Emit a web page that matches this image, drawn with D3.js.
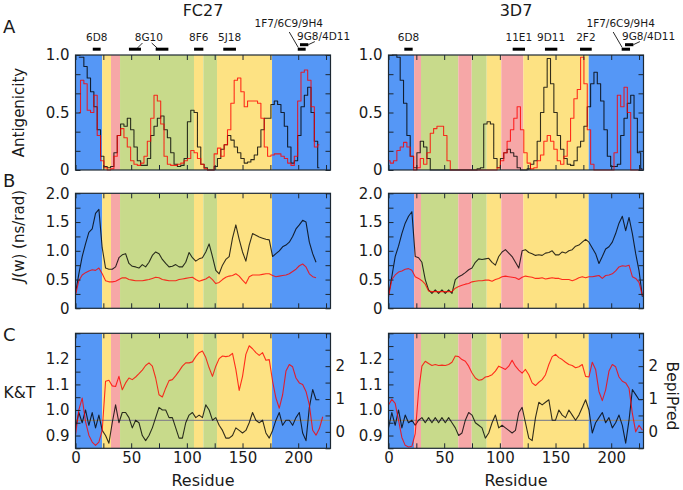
<!DOCTYPE html>
<html><head><meta charset="utf-8">
<script src="https://cdn.jsdelivr.net/npm/d3@7"></script>
<style>body{margin:0;background:#fff}svg{display:block}</style>
</head><body>
<svg id="chart" width="683" height="490"></svg>
<script>
// ---------------- DATA ----------------
const residueStep = 3;
const residueDomain = [0, 229];
const xTickValues = [0, 25, 50, 75, 100, 125, 150, 175, 200, 225];
const xTickLabels = {0: "0", 50: "50", 100: "100", 150: "150", 200: "200"};

const strains = ["FC27", "3D7"];

// Panel A: antigenicity (black / red), sampled every 3 residues
const aFC27Black = [0.98,0.98,0.9,0.8,0.68,0.55,0.35,0.12,0.03,0.02,
 0.03,0.15,0.3,0.4,0.38,0.45,0.35,0.2,0.08,0.04,
 0.04,0.1,0.3,0.38,0.45,0.47,0.35,0.28,0.15,0.05,
 0.03,0.04,0.1,0.42,0.52,0.5,0.2,0.05,0.02,0,
 0,0.03,0.1,0.18,0.22,0.3,0.26,0.2,0.15,0.1,
 0.06,0.07,0.09,0.13,0.2,0.35,0.45,0.45,0.57,0.6,
 0.57,0.5,0.38,0.2,0.06,0.08,0.3,0.55,0.65,0.72,
 0.5,0.25,0.02];
const aFC27Red = [0.5,0.78,0.75,0.52,0.5,0.65,0.3,0.08,0.02,0,
 0.01,0.12,0.3,0.36,0.28,0.2,0.08,0.05,0.04,0.06,
 0.12,0.25,0.45,0.65,0.6,0.4,0.12,0.05,0.04,0.04,
 0.05,0.06,0.08,0.1,0.17,0.15,0.1,0.05,0.01,0,
 0,0.14,0.19,0.12,0.22,0.35,0.58,0.78,0.8,0.68,
 0.55,0.6,0.6,0.6,0.58,0.45,0.2,0.12,0.13,0.14,
 0.14,0.12,0.1,0.06,0.04,0.12,0.6,0.85,0.87,0.78,
 0.55,0.2,0.22];
const a3D7Black = [1,1,0.98,0.78,0.58,0.3,0.12,0.02,0.15,0.25,
 0.2,0.1,0,0,0,0,0,0,0,0,
 0,0,0,0,0,0,0.01,0.02,0.4,0.42,
 0.4,0.1,0.02,0.1,0.15,0.18,0.15,0.12,0.02,0,
 0,0.01,0.05,0.08,0.25,0.5,0.72,0.97,0.75,0.5,
 0.3,0.18,0.1,0.05,0.04,0.08,0.2,0.25,0.38,0.55,
 0.75,0.85,0.75,0.6,0.35,0.12,0.03,0.03,0.05,0.3,
 0.45,0.58,0.65,0.45,0.15,0.01];
const a3D7Red = [0.08,0.06,0.08,0.17,0.2,0.24,0.2,0.12,0,0.02,
 0.1,0.05,0.15,0.32,0.36,0.38,0.38,0.3,0.08,0,
 0,0,0,0,0,0,0,0,0,0,
 0,0,0,0.02,0.08,0.15,0.25,0.35,0.45,0.55,
 0.35,0.15,0.06,0.01,0.02,0.08,0.13,0.25,0.3,0.25,
 0.18,0.08,0.05,0.12,0.25,0.45,0.62,0.7,0.98,0.75,
 0.35,0.05,0,0,0,0,0,0,0.15,0.65,
 0.55,0.72,0.5,0,0,0,0];

// Panel B: J(w) (ns/rad)
const bFC27Black = [0.26,0.6,0.9,1.12,1.32,1.38,1.65,1.72,1.05,0.7,
 0.68,0.68,0.72,0.88,0.93,0.95,0.78,0.73,0.72,0.7,
 0.76,0.72,0.8,0.92,0.98,0.95,0.85,0.78,0.72,0.73,
 0.76,0.72,0.72,0.8,0.97,0.88,0.82,0.86,0.88,0.98,
 1.12,0.9,0.66,0.6,0.75,0.85,0.9,1.22,1.45,1.2,
 0.98,0.82,1.1,1.3,1.27,1.24,1.22,1.2,1.19,0.9,
 0.95,1.0,1.07,1.1,1.15,1.25,1.38,1.45,1.53,1.5,
 1.15,0.95,0.8];
const bFC27Red = [0.23,0.48,0.58,0.62,0.65,0.67,0.66,0.7,0.6,0.48,
 0.46,0.46,0.47,0.5,0.53,0.53,0.5,0.49,0.48,0.48,
 0.48,0.49,0.5,0.52,0.54,0.53,0.5,0.49,0.48,0.48,
 0.48,0.5,0.51,0.52,0.53,0.54,0.5,0.47,0.49,0.51,
 0.55,0.5,0.43,0.45,0.5,0.54,0.56,0.57,0.6,0.56,
 0.49,0.43,0.55,0.58,0.58,0.58,0.59,0.6,0.6,0.57,
 0.55,0.56,0.57,0.58,0.6,0.64,0.68,0.74,0.77,0.72,
 0.6,0.55,0.53];
const b3D7Black = [0.23,0.55,0.9,1.08,1.3,1.48,1.6,1.68,0.9,0.88,
 0.8,0.5,0.32,0.26,0.32,0.26,0.32,0.26,0.32,0.26,
 0.5,0.55,0.58,0.62,0.67,0.7,0.8,0.86,0.85,0.86,
 0.87,0.8,0.75,0.9,0.98,1.02,0.96,0.9,0.8,0.7,
 1.0,1.02,0.97,0.95,0.92,0.93,0.92,0.96,0.97,1.0,
 0.93,0.93,0.98,0.96,1.0,1.02,1.08,1.1,1.15,1.2,
 1.15,1.05,0.95,0.78,0.9,1.03,1.07,1.15,1.3,1.48,
 1.6,1.35,1.58,1.3,0.95,0.65,0.2];
const b3D7Red = [0.2,0.5,0.58,0.63,0.65,0.68,0.69,0.66,0.55,0.52,
 0.48,0.42,0.3,0.29,0.29,0.29,0.29,0.29,0.29,0.29,
 0.35,0.38,0.4,0.42,0.43,0.46,0.47,0.48,0.48,0.49,
 0.49,0.47,0.5,0.52,0.55,0.56,0.55,0.54,0.53,0.5,
 0.54,0.56,0.55,0.54,0.52,0.52,0.53,0.51,0.52,0.53,
 0.52,0.52,0.5,0.5,0.5,0.48,0.5,0.53,0.55,0.53,
 0.55,0.55,0.56,0.57,0.52,0.57,0.58,0.6,0.65,0.72,
 0.74,0.73,0.75,0.55,0.52,0.45,0.22];

// Panel C: K&T (black, left axis) and BepiPred (red, right axis)
const cFC27KT = [0.93,0.99,0.95,1.0,0.94,0.99,0.93,0.98,0.92,0.9,
 0.87,0.95,1.02,0.95,0.99,0.99,0.97,0.93,0.96,0.95,
 0.9,0.88,0.9,0.93,0.97,1.01,1.0,1.0,0.97,0.97,
 0.93,0.89,0.89,0.95,0.98,0.99,0.97,0.98,0.97,1.02,
 1.0,0.96,0.97,0.94,0.92,0.89,0.89,0.9,0.93,0.92,
 0.91,0.92,0.95,0.99,0.96,0.95,0.96,0.91,0.89,0.92,
 0.96,0.99,0.94,0.96,0.96,0.94,0.97,0.99,0.91,0.88,
 1.01,1.08,1.04,1.04];
const cFC27Bepi = [-0.1,0.67,1.03,0.31,-0.1,-0.31,-0.41,-0.31,0.05,1.54,
 1.57,1.4,1.38,1.69,1.28,1.49,1.64,1.59,1.67,1.77,
 1.88,2.02,2.1,2.0,1.64,1.13,1.06,1.33,1.56,1.59,
 1.71,1.85,2.0,2.1,2.1,2.13,2.29,2.41,2.46,2.26,
 1.95,1.69,2.0,2.23,2.31,2.29,2.31,2.39,1.9,1.26,
 1.69,2.36,2.62,2.53,2.41,2.33,2.41,2.18,2.2,1.54,
 1.03,0.72,1.13,1.85,2.05,1.98,1.64,1.49,1.44,1.23,
 0.82,0.05,-0.1,0.1,0.46];
const c3D7KT = [0.93,0.99,0.94,1.0,0.93,0.98,0.95,0.96,0.94,0.96,
 0.97,0.95,0.97,0.95,0.97,0.95,0.97,0.95,0.97,0.95,
 0.93,0.9,0.91,0.96,0.99,0.98,0.95,0.94,0.93,0.89,
 0.91,0.95,0.98,0.93,0.94,0.93,0.92,0.91,0.92,0.99,
 1.01,0.95,0.89,0.88,0.97,1.03,1.02,1.03,1.04,0.96,
 0.96,1.0,0.98,0.97,1.0,0.98,0.96,0.98,1.01,1.04,
 1.0,0.91,0.95,0.97,0.99,0.95,0.97,0.93,0.95,0.98,
 0.94,0.87,0.96,1.08,1.06,1.04,1.04];
const c3D7Bepi = [0.82,0.99,0.87,0.36,-0.17,-0.41,-0.46,-0.44,-0.05,1.23,
 2.0,2.15,2.08,2.02,2.05,2.02,2.03,2.02,2.05,2.12,
 2.31,2.29,2.2,2.15,2.0,1.79,1.64,1.57,1.59,1.67,
 1.69,1.74,1.85,2.0,1.95,1.9,2.0,2.18,2.0,1.88,
 1.79,1.9,1.74,1.49,1.41,1.51,1.59,1.74,2.05,2.29,
 2.36,2.26,2.2,2.12,2.05,2.02,1.95,1.98,2.05,1.69,
 1.67,2.12,1.9,1.23,0.95,1.28,1.85,2.05,1.98,1.67,
 1.54,1.49,1.33,0.56,0.0,0.2,0.05];

// first residue of each series
const seriesStart = {
  aFC27Black: 3, aFC27Red: 3, a3D7Black: 3, a3D7Red: 0,
  bFC27Black: 0, bFC27Red: 0, b3D7Black: 0, b3D7Red: 0,
  cFC27KT: 0, cFC27Bepi: 0, c3D7KT: 0, c3D7Bepi: 0
};

const bepiThreshold = 0.35;

// domain regions [start, end, type]
const regionsFC27 = [[0,24,"blue"],[24,31.9,"yellow"],[31.9,40,"pink"],[40,106.4,"green"],
  [106.4,114.8,"yellow"],[114.8,127.1,"green"],[127.1,176.5,"yellow"],[176.5,229,"blue"]];
const regions3D7 = [[0,23,"blue"],[23,29.2,"pink"],[29.2,62.7,"green"],[62.7,74.7,"pink"],
  [74.7,88.2,"green"],[88.2,101.3,"yellow"],[101.3,121.1,"pink"],[121.1,179.8,"yellow"],[179.8,229,"blue"]];

// antibody epitopes: label, residue ranges
const epitopesFC27 = [
  {label: "6D8", ranges: [[15.5,22.6]]},
  {label: "8G10", ranges: [[48,58.8],[72,83.4]]},
  {label: "8F6", ranges: [[106.5,114.8]]},
  {label: "5J18", ranges: [[132.7,144.1]]},
  {label: "1F7/6C9/9H4", ranges: [[199.6,206.7]]},
  {label: "9G8/4D11", ranges: [[201.6,209.1]]}
];
const epitopes3D7 = [
  {label: "6D8", ranges: [[14.2,21.7]]},
  {label: "11E1", ranges: [[111.5,122.6]]},
  {label: "9D11", ranges: [[140.5,151.6]]},
  {label: "2F2", ranges: [[172,182.5]]},
  {label: "1F7/6C9/9H4", ranges: [[209.4,216.9]]},
  {label: "9G8/4D11", ranges: [[212.4,219.9]]}
];

// ---------------- STYLE / LAYOUT ----------------
const regionColor = {blue: "#5597f6", yellow: "#fde283", pink: "#f6a7a7", green: "#c8da8b"};
const axisColor = "#1d2833";
const textColor = "#1a1a1a";
const FONT = "'DejaVu Sans', Verdana, sans-serif";
const rows = {A: [55, 170], B: [193.3, 308.3], C: [333.3, 448.3]};
const cols = [[75.5, 330.5], [388.5, 643.5]];

const svg = d3.select("#chart");

function styleAxis(g, fs) {
  g.select(".domain").remove();
  g.selectAll("line").attr("stroke", axisColor).attr("stroke-width", 1);
  g.selectAll("text").attr("fill", textColor).style("font-family", FONT).style("font-size", fs + "px");
  g.attr("font-family", null).attr("font-size", null);
}

function fmt(map) { return d => (map[d] !== undefined ? map[d] : ""); }

function drawLine(g, x, y, vals, start, color, curve) {
  const pts = vals.map((v, i) => [start + i * residueStep, v]);
  g.append("path")
    .attr("d", d3.line().x(d => x(d[0])).y(d => y(d[1])).curve(curve)(pts))
    .attr("fill", "none").attr("stroke", color).attr("stroke-width", 1.1)
    .attr("stroke-opacity", 0.8).attr("stroke-linejoin", "round");
}

const aTicks = [0, 1/6, 1/3, 0.5, 2/3, 5/6, 1];
const aLabels = {0: "0", 0.5: "0.5", 1: "1.0"};
const bTicks = [0, 0.25, 0.5, 0.75, 1, 1.25, 1.5, 1.75, 2];
const bLabels = {0: "0", 0.5: "0.5", 1: "1.0", 1.5: "1.5", 2: "2.0"};
const ktTicks = [0.85, 0.9, 0.95, 1.0, 1.05, 1.1, 1.15, 1.2, 1.25, 1.3];
const ktLabels = {0.9: "0.9", 1: "1.0", 1.1: "1.1", 1.2: "1.2"};
const bepiTicks = [-0.5, 0, 0.5, 1, 1.5, 2, 2.5, 3];
const bepiLabels = {0: "0", 1: "1", 2: "2"};

const panelSeries = [
  {A: [aFC27Black, "aFC27Black", aFC27Red, "aFC27Red"], B: [bFC27Black, "bFC27Black", bFC27Red, "bFC27Red"],
   C: [cFC27KT, "cFC27KT", cFC27Bepi, "cFC27Bepi"], regions: regionsFC27, epi: epitopesFC27},
  {A: [a3D7Black, "a3D7Black", a3D7Red, "a3D7Red"], B: [b3D7Black, "b3D7Black", b3D7Red, "b3D7Red"],
   C: [c3D7KT, "c3D7KT", c3D7Bepi, "c3D7Bepi"], regions: regions3D7, epi: epitopes3D7}
];

panelSeries.forEach((ps, ci) => {
  const x = d3.scaleLinear(residueDomain, cols[ci]);
  const g = svg.append("g");
  const rowDefs = [
    {key: "A", y: d3.scaleLinear([0, 1], [rows.A[1], rows.A[0]]), ticks: aTicks, labels: aLabels, curve: d3.curveStep},
    {key: "B", y: d3.scaleLinear([0, 2], [rows.B[1], rows.B[0]]), ticks: bTicks, labels: bLabels, curve: d3.curveLinear},
    {key: "C", y: d3.scaleLinear([0.85, 1.3], [rows.C[1], rows.C[0]]), ticks: ktTicks, labels: ktLabels, curve: d3.curveLinear}
  ];
  const yBepi = d3.scaleLinear([-0.5, 3], [rows.C[1], rows.C[0]]);

  rowDefs.forEach(rd => {
    const [top, bot] = rows[rd.key];
    g.append("g").selectAll("rect").data(ps.regions).join("rect")
      .attr("x", d => x(d[0])).attr("width", d => x(d[1]) - x(d[0]))
      .attr("y", top).attr("height", bot - top)
      .attr("fill", d => regionColor[d[2]]);
    if (rd.key === "C") {
      g.append("line").attr("x1", x.range()[0]).attr("x2", x.range()[1])
        .attr("y1", yBepi(bepiThreshold)).attr("y2", yBepi(bepiThreshold))
        .attr("stroke", "#8a8a8a").attr("stroke-width", 1.1);
    }
    const [blk, blkName, red, redName] = ps[rd.key];
    drawLine(g, x, rd.y, blk, seriesStart[blkName], "#000", rd.curve);
    drawLine(g, x, rd.key === "C" ? yBepi : rd.y, red, seriesStart[redName], "#ff0000", rd.curve);

    g.append("rect").attr("x", x.range()[0]).attr("y", top)
      .attr("width", x.range()[1] - x.range()[0]).attr("height", bot - top)
      .attr("fill", "none").attr("stroke", axisColor).attr("stroke-width", 1.2);

    const gt = g.append("g").attr("transform", `translate(0,${top})`)
      .call(d3.axisTop(x).tickValues(xTickValues).tickSize(-5).tickFormat(""));
    styleAxis(gt, 15);
    const gb = g.append("g").attr("transform", `translate(0,${bot})`)
      .call(d3.axisBottom(x).tickValues(xTickValues).tickSize(-5).tickPadding(4)
        .tickFormat(rd.key === "C" ? fmt(xTickLabels) : ""));
    styleAxis(gb, 15);

    const gl = g.append("g").attr("transform", `translate(${x.range()[0]},0)`)
      .call(d3.axisLeft(rd.y).tickValues(rd.ticks).tickSize(-5).tickPadding(6).tickFormat(fmt(rd.labels)));
    styleAxis(gl, 15);
    if (rd.key === "C") {
      const gr = g.append("g").attr("transform", `translate(${x.range()[1]},0)`)
        .call(d3.axisRight(yBepi).tickValues(bepiTicks).tickSize(-5).tickPadding(5).tickFormat(fmt(bepiLabels)));
      styleAxis(gr, 15);
    } else {
      const gr = g.append("g").attr("transform", `translate(${x.range()[1]},0)`)
        .call(d3.axisRight(rd.y).tickValues(rd.ticks).tickSize(-5).tickFormat(""));
      styleAxis(gr, 15);
    }
  });

  // epitope bars and labels
  const eg = g.append("g");
  const labelY = 40.5, barY = 49.2, barY2 = 44.7;
  ps.epi.forEach(ep => {
    const raised = ep.label === "9G8/4D11";
    ep.ranges.forEach(r => {
      eg.append("rect").attr("x", x(r[0])).attr("width", x(r[1]) - x(r[0]))
        .attr("y", (raised ? barY2 : barY) - 1.5).attr("height", 3).attr("fill", "#000");
    });
    const s = ep.ranges[0][0], e = ep.ranges[ep.ranges.length - 1][1];
    const t = eg.append("text").text(ep.label).attr("fill", textColor)
      .style("font-family", FONT).style("font-size", "10.5px");
    if (ep.label === "1F7/6C9/9H4") {
      t.attr("x", x(s) + (ci === 0 ? -9 : -1)).attr("y", 26.7).attr("text-anchor", "middle");
      eg.append("line").attr("x1", x(s) + 0.5).attr("y1", 47.5).attr("x2", x(s) - 8.5).attr("y2", 32)
        .attr("stroke", "#111").attr("stroke-width", 0.9);
    } else if (raised) {
      t.attr("x", x(s) - 3).attr("y", 40).attr("text-anchor", "start");
      eg.append("line").attr("x1", x(e)).attr("y1", barY2).attr("x2", x(e) + 6.5).attr("y2", 41.6)
        .attr("stroke", "#111").attr("stroke-width", 0.9);
    } else if (ep.ranges.length > 1) {
      const a = ep.ranges[0][1], b = ep.ranges[1][0];
      t.attr("x", (x(a) + x(b)) / 2 + 0.5).attr("y", labelY).attr("text-anchor", "middle");
      eg.append("line").attr("x1", x(a) + 1.5).attr("y1", 43).attr("x2", x(a) - 3.5).attr("y2", 48)
        .attr("stroke", "#111").attr("stroke-width", 0.9);
      eg.append("line").attr("x1", x(b) - 4).attr("y1", 43).attr("x2", x(b) + 1.5).attr("y2", 48)
        .attr("stroke", "#111").attr("stroke-width", 0.9);
    } else {
      t.attr("x", (x(s) + x(e)) / 2).attr("y", labelY).attr("text-anchor", "middle");
    }
  });

  const cx = (x.range()[0] + x.range()[1]) / 2;
  svg.append("text").text(strains[ci]).attr("x", cx).attr("y", 15.5).attr("text-anchor", "middle")
    .attr("fill", textColor).style("font-family", FONT).style("font-size", "16px");
  svg.append("text").text("Residue").attr("x", cx).attr("y", 486).attr("text-anchor", "middle")
    .attr("fill", textColor).style("font-family", FONT).style("font-size", "16px");
});

[["A", 33], ["B", 186.5], ["C", 341]].forEach(([l, yy]) => {
  svg.append("text").text(l).attr("x", 3).attr("y", yy).attr("fill", textColor)
    .style("font-family", FONT).style("font-size", "18px");
});

svg.append("text").text("Antigenicity").attr("transform", "translate(24,112.5) rotate(-90)")
  .attr("text-anchor", "middle").attr("fill", textColor).style("font-family", FONT).style("font-size", "15px");
const jt = svg.append("text").attr("transform", "translate(23.5,236) rotate(-90)")
  .attr("text-anchor", "middle").attr("fill", textColor).style("font-family", FONT).style("font-size", "15px");
jt.append("tspan").text("J").style("font-style", "italic");
jt.append("tspan").text("(w) (ns/rad)");
svg.append("text").text("K&T").attr("x", 3.5).attr("y", 397.5).attr("fill", textColor)
  .style("font-family", FONT).style("font-size", "15.5px");
svg.append("text").text("BepiPred").attr("transform", "translate(667,396) rotate(90)")
  .attr("text-anchor", "middle").attr("fill", textColor).style("font-family", FONT).style("font-size", "15.5px");
</script>
</body></html>
